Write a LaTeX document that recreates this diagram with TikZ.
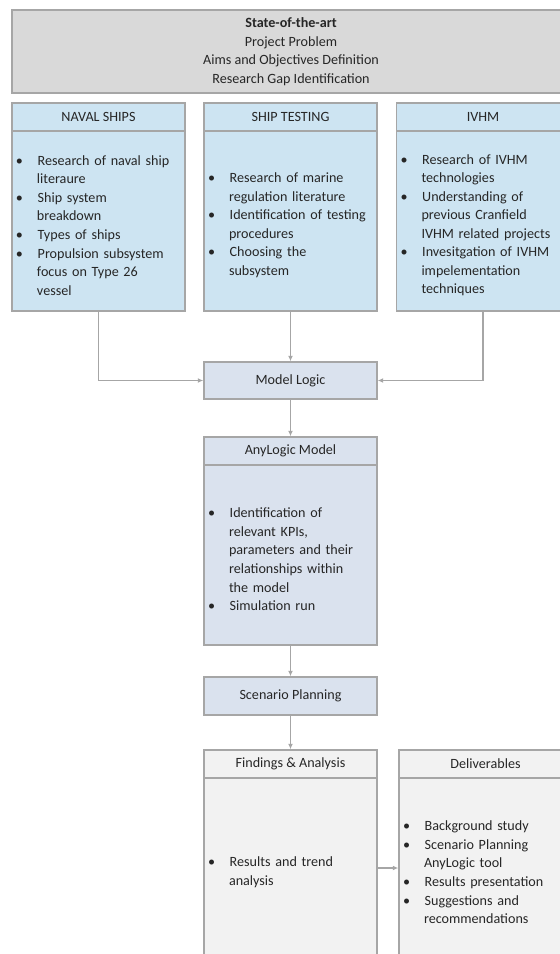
\documentclass[tikz,border=0pt]{standalone}
\usepackage{fontspec}
\setmainfont{Carlito}
\usepackage{enumitem}
\usetikzlibrary{arrows.meta}
\definecolor{boxline}{HTML}{A6A6A6}
\definecolor{linkgray}{HTML}{A6A6A6}
\definecolor{topgray}{HTML}{D9D9D9}
\definecolor{colblue}{HTML}{CDE4F2}
\definecolor{modblue}{HTML}{DAE2EE}
\definecolor{outgray}{HTML}{F2F2F2}
\definecolor{txt}{HTML}{262626}
\setlist[itemize]{nosep,label=\textbullet,leftmargin=18.75pt,labelsep=11pt,labelwidth=4.75pt,align=left}
\tikzset{
	base/.style={draw=boxline, line width=1.1pt, text=txt, font=\fontsize{10.6}{13.9}\selectfont, inner sep=0pt, minimum width=129.75pt},
	head/.style={base, minimum height=21pt},
	body/.style={base, minimum height=135pt, text width=129.75pt, align=left},
	link/.style={draw=linkgray, line width=0.9pt, -{Latex[length=4pt,width=3.6pt]}}
}

\begin{document}
\begin{tikzpicture}[x=0.75pt,y=-0.75pt]
	\useasboundingbox (0,0) rectangle (560,954);
	\node[base, fill=topgray, minimum width=418.5pt, minimum height=62.25pt, align=center] (sota) at (291,51.5) {\textbf{State-of-the-art}\\Project Problem\\Aims and Objectives Definition\\Research Gap Identification};
	\node[head, fill=colblue] (navalh) at (98.5,117) {NAVAL SHIPS};
	\node[body, fill=colblue] (navalb) at (98.5,221) {\begin{itemize}
		\item Research of naval ship\\ literaure
		\item Ship system\\ breakdown
		\item Types of ships
		\item Propulsion subsystem\\ focus on Type 26\\ vessel
	\end{itemize}};
	\node[head, fill=colblue] (shiph) at (290.5,117) {SHIP TESTING};
	\node[body, fill=colblue] (shipb) at (290.5,221) {\begin{itemize}
		\item Research of marine\\ regulation literature
		\item Identification of testing\\ procedures
		\item Choosing the\\ subsystem
	\end{itemize}};
	\node[head, fill=colblue] (ivhmh) at (483,117) {IVHM};
	\node[body, fill=colblue] (ivhmb) at (483,221) {\begin{itemize}
		\item Research of IVHM\\ technologies
		\item Understanding of\\ previous Cranfield\\ IVHM related projects
		\item Invesitgation of IVHM\\ impelementation\\ techniques
	\end{itemize}};
	\node[base, fill=modblue, minimum height=27.75pt] (logic) at (290.5,380.5) {Model Logic};
	\node[head, fill=modblue] (alh) at (290.5,451) {AnyLogic Model};
	\node[body, fill=modblue] (alb) at (290.5,555) {\begin{itemize}
		\item Identification of\\ relevant KPIs,\\ parameters and their\\ relationships within\\ the model
		\item Simulation run
	\end{itemize}};
	\node[base, fill=modblue, minimum height=28.5pt] (scen) at (290.5,696) {Scenario Planning};
	\node[head, fill=outgray] (fah) at (290.5,764) {Findings \& Analysis};
	\node[body, fill=outgray] (fab) at (290.5,868) {\begin{itemize}
		\item Results and trend\\ analysis
	\end{itemize}};
	\node[head, fill=outgray] (delh) at (485.5,764) {Deliverables};
	\node[body, fill=outgray] (delb) at (485.5,868) {\begin{itemize}
		\item Background study
		\item Scenario Planning\\ AnyLogic tool
		\item Results presentation
		\item Suggestions and\\ recommendations
	\end{itemize}};
	\draw[link] (navalb.south) |- (logic.west);
	\draw[link] (shipb.south) -- (logic.north);
	\draw[link] (ivhmb.south) |- (logic.east);
	\draw[link] (logic.south) -- (alh.north);
	\draw[link] (alb.south) -- (scen.north);
	\draw[link] (scen.south) -- (fah.north);
	\draw[link] (fab.east) -- (delb.west);
\end{tikzpicture}
\end{document}
